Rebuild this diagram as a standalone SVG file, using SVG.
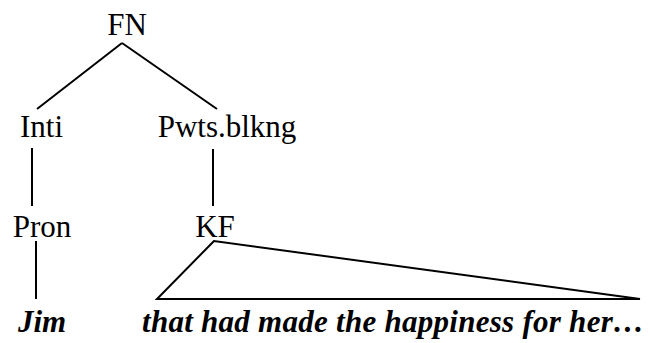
<svg xmlns="http://www.w3.org/2000/svg" width="650" height="343" viewBox="0 0 650 343">
<style>
.n{font-family:"Liberation Serif","Times New Roman",serif;font-size:31px;fill:#000;text-anchor:middle}
.w{font-family:"Liberation Serif","Times New Roman",serif;font-size:31px;font-weight:bold;font-style:italic;fill:#000}
.e{stroke:#000;stroke-width:2;fill:none}
</style>
<rect width="650" height="343" fill="#fff"/>
<g id="connectors">
<line class="e" x1="122" y1="43" x2="37" y2="109"/>
<line class="e" x1="122" y1="43" x2="217" y2="109"/>
<line class="e" x1="32" y1="148" x2="32" y2="206"/>
<line class="e" x1="213" y1="149" x2="213" y2="206"/>
<line class="e" x1="36" y1="241" x2="36" y2="299"/>
<polygon class="e" points="214,241 157,299 640,299"/>
</g>
<g id="FN"><text class="n" x="127" y="35">FN</text></g>
<g id="Inti"><text class="n" x="41.5" y="137">Inti</text></g>
<g id="Pwts"><text class="n" x="227" y="137">Pwts.blkng</text></g>
<g id="Pron"><text class="n" x="42" y="237">Pron</text></g>
<g id="KF"><text class="n" x="215" y="237">KF</text></g>
<g id="Jim"><text class="w" x="18" y="332">Jim</text></g>
<g id="phrase"><text class="w" x="142" y="332" textLength="502" lengthAdjust="spacing">that had made the happiness for her…</text></g>
</svg>
